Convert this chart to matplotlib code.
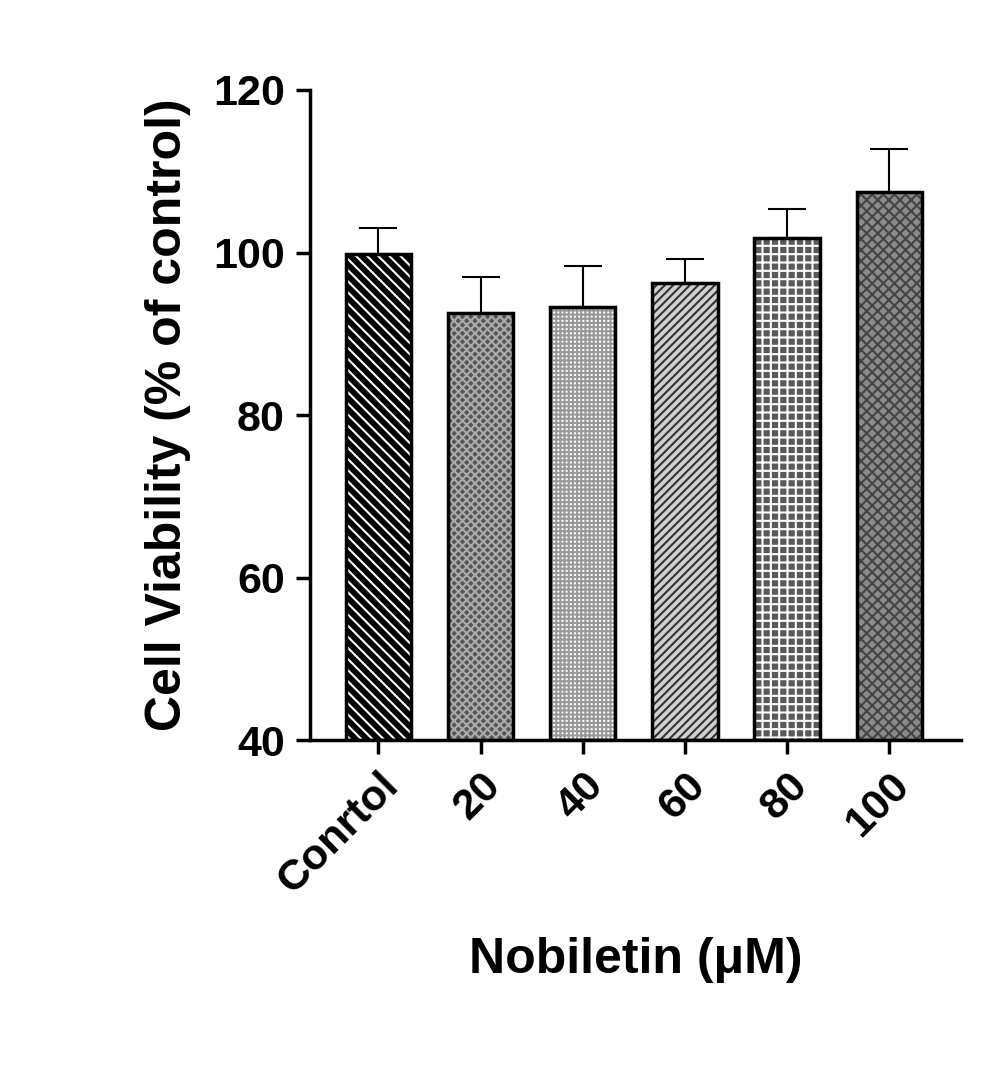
import matplotlib
matplotlib.use("Agg")
import matplotlib.pyplot as plt

categories = ["Conrtol", "20", "40", "60", "80", "100"]
values = [99.8, 92.6, 93.3, 96.3, 101.8, 107.5]
errors = [3.2, 4.4, 5.0, 2.9, 3.5, 5.3]

faces = ["black", "#555555", "white", "#d0d0d0", "#5a5a5a", "#8a8a8a"]
hatch_cols = ["white", "#aaaaaa", "#999999", "#333333", "white", "#444444"]
hatches = ["\\\\\\", "xxxx", "++++", "////", "++", "xxx"]

plt.rcParams["font.family"] = "Liberation Sans"
plt.rcParams["font.weight"] = "bold"
plt.rcParams["hatch.linewidth"] = 1.5

fig = plt.figure(figsize=(9.92, 10.65), dpi=100)
ax = fig.add_axes([0.3125, 0.305, 0.656, 0.6105])
x = list(range(len(categories)))
w = 0.64
for i in x:
    ax.bar(i, values[i] - 40, bottom=40, width=w, color=faces[i], hatch=hatches[i],
           edgecolor=hatch_cols[i], linewidth=0, zorder=2)
    ax.bar(i, values[i] - 40, bottom=40, width=w, fill=False, edgecolor="black",
           linewidth=2.5, zorder=3)
    ax.errorbar(i, values[i], yerr=[[0], [errors[i]]], color="black", capsize=14,
                elinewidth=1.5, capthick=1.5, zorder=1)

ax.set_ylim(40, 120)
ax.set_xlim(-0.67, 5.7)
ax.set_yticks([40, 60, 80, 100, 120])
ax.set_xticks(x)
ax.set_xticklabels(categories, rotation=45, ha="right", rotation_mode="anchor")
ax.tick_params(labelsize=31, width=2.5, length=10, pad=8)
for s in ["top", "right"]:
    ax.spines[s].set_visible(False)
for s in ["left", "bottom"]:
    ax.spines[s].set_linewidth(2.5)
ax.set_ylabel("Cell Viability (% of control)", fontsize=36, fontweight="bold", labelpad=16)
ax.set_xlabel("Nobiletin (μM)", fontsize=36, fontweight="bold", labelpad=26)
fig.savefig("out.png", dpi=100)
